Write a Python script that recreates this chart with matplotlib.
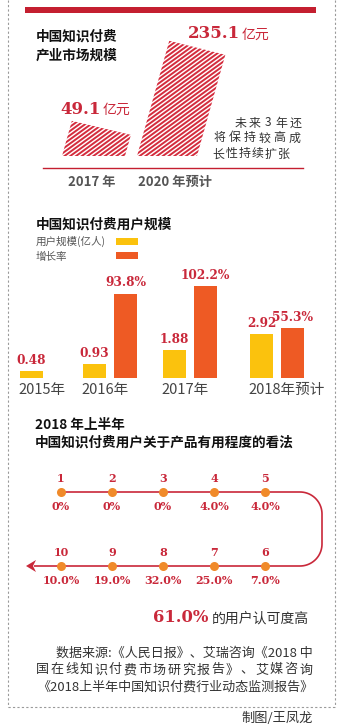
import numpy as np
import matplotlib
matplotlib.use("Agg")
import matplotlib.pyplot as plt
from matplotlib.patches import Polygon, Rectangle
from matplotlib.collections import LineCollection

plt.rcParams['font.family'] = ['Noto Sans CJK SC', 'DejaVu Sans']

# ---------------- data ----------------
market_years = ["2017 年", "2020 年预计"]
market_values = [49.1, 235.1]          # 亿元

user_years = ["2015年", "2016年", "2017年", "2018年预计"]
user_scale = [0.48, 0.93, 1.88, 2.92]  # 亿人
user_growth = [None, 93.8, 102.2, 55.3]  # %

ranks = [1, 2, 3, 4, 5, 6, 7, 8, 9, 10]
rank_share = [0, 0, 0, 4.0, 4.0, 7.0, 25.0, 32.0, 19.0, 10.0]  # %
approval = 61.0

# ---------------- styles ----------------
W, H = 344, 727
RED = "#c41f30"
TXT_RED = "#c9283a"
HATCH_RED = "#d42c3d"
YELLOW = "#fbc20d"
ORANGE = "#ee5a24"
DOT = "#f08a2a"
DARK = "#333333"
GREY = "#555555"
SERIF = "DejaVu Serif"

fig = plt.figure(figsize=(W / 100, H / 100), dpi=100)
fig.patch.set_facecolor("white")

bg = fig.add_axes([0, 0, 1, 1])
bg.set_xlim(0, W)
bg.set_ylim(H, 0)
bg.axis("off")


def px_axes(x0, y0, x1, y1):
    ax = fig.add_axes([x0 / W, 1 - y1 / H, (x1 - x0) / W, (y1 - y0) / H])
    ax.axis("off")
    ax.patch.set_alpha(0)
    return ax


def spaced(x_left, y, s, pitch, **kw):
    for i, ch in enumerate(s):
        bg.text(x_left + pitch * (i + 0.5), y, ch, ha="center", va="center", **kw)


# dashed border
bg.plot([8, 8], [0, 707], color="#9a9a9a", lw=0.8, ls=(0, (2, 2)))
bg.plot([335, 335], [0, 707], color="#9a9a9a", lw=0.8, ls=(0, (2, 2)))
bg.plot([8, 335], [707, 707], color="#9a9a9a", lw=0.8, ls=(0, (2, 2)))

# ---------------- section 1 ----------------
bg.add_patch(Rectangle((25, 7), 291, 6, color=RED, lw=0))
bg.text(36, 37, "中国知识付费", fontsize=9.8, fontweight="bold", color="#111", va="center")
bg.text(36, 56, "产业市场规模", fontsize=9.8, fontweight="bold", color="#111", va="center")

ax1 = px_axes(40, 20, 310, 156)
ax1.set_xlim(0, 270)
top1 = 316.0
ax1.set_ylim(0, top1)
ppu = 136 / top1              # pixels per unit
bar_left = [22, 97]
bar_w = [63, 60]
skew = 0.28                   # horizontal px per vertical px
lift = 14                     # extra px on the left edge
theta = np.deg2rad(36)
d = np.array([np.cos(theta), np.sin(theta)])
n = np.array([-np.sin(theta), np.cos(theta)])
for x0, w, v in zip(bar_left, bar_w, market_values):
    hl = v * ppu + lift
    hr = v * ppu
    verts = [(x0, 0), (x0 + w, 0), (x0 + w + skew * hr, v), (x0 + skew * hl, v + lift / ppu)]
    poly = Polygon(verts, closed=True, facecolor="white", edgecolor="none")
    ax1.add_patch(poly)
    segs = []
    for c in np.arange(-300, 300, 3.4):
        p0 = c * n - 400 * d
        p1 = c * n + 400 * d
        segs.append([(p0[0], p0[1] / ppu), (p1[0], p1[1] / ppu)])
    lc = LineCollection(segs, colors=HATCH_RED, linewidths=1.4)
    ax1.add_collection(lc)
    lc.set_clip_path(poly)

bg.text(60, 109, f"{market_values[0]:.1f}", fontsize=12, fontweight="bold", family=SERIF,
        color=TXT_RED, va="center")
bg.text(103, 110, "亿元", fontsize=10, color=TXT_RED, va="center")
bg.text(188, 34, f"{market_values[1]:.1f}", fontsize=12, fontweight="bold", family=SERIF,
        color=TXT_RED, va="center")
bg.text(242, 35, "亿元", fontsize=10, color=TXT_RED, va="center")

spaced(234, 123, "未来3年还", 13.6, fontsize=8.6, color=DARK)
spaced(212, 138, "将保持较高成", 15, fontsize=8.6, color=DARK)
spaced(212, 154, "长性持续扩张", 13, fontsize=8.6, color=DARK)

bg.plot([43, 303], [168, 168], color=RED, lw=1.0)
bg.text(68, 182, market_years[0], fontsize=9.5, fontweight="bold", color=GREY, va="center")
bg.text(138, 182, market_years[1], fontsize=9.5, fontweight="bold", color=GREY, va="center")

# ---------------- section 2 ----------------
bg.text(36, 225, "中国知识付费用户规模", fontsize=9.8, fontweight="bold", color="#111", va="center")
bg.text(36, 241, "用户规模(亿人)", fontsize=7.6, color=GREY, va="center")
bg.text(36, 257, "增长率", fontsize=7.6, color=GREY, va="center")
bg.add_patch(Rectangle((116, 238), 22, 7, color=YELLOW, lw=0))
bg.add_patch(Rectangle((116, 252), 22, 7, color=ORANGE, lw=0))

ax2 = px_axes(0, 260, 344, 378)
ax2.set_xlim(0, W)
ax2.set_ylim(0, 118 / 15)
ax2b = ax2.twinx()
ax2b.axis("off")
ax2b.set_ylim(0, 118 / 0.9)
grp_left = [20, 83, 163, 250]
bw = 23
off = 31
for x, v in zip(grp_left, user_scale):
    ax2.bar(x, v, width=bw, align="edge", color=YELLOW, lw=0)
    ax2.annotate(f"{v:.2f}", (x + bw / 2, v), xytext=(0, 3), textcoords="offset points",
                 ha="center", va="bottom", fontsize=8.7, fontweight="bold", family=SERIF,
                 color=TXT_RED)
for x, g in zip(grp_left, user_growth):
    if g is None:
        continue
    ax2b.bar(x + off, g, width=bw, align="edge", color=ORANGE, lw=0)
    ax2b.annotate(f"{g:.1f}%", (x + off + bw / 2, g), xytext=(0, 3), textcoords="offset points",
                  ha="center", va="bottom", fontsize=8.7, fontweight="bold", family=SERIF,
                  color=TXT_RED)
for x, lab in zip(grp_left, user_years):
    bg.text(x - 2, 390, lab, fontsize=10.5, color="#444", fontweight="light", va="center")

# ---------------- section 3 ----------------
bg.text(35, 425, "2018 年上半年", fontsize=9.8, fontweight="bold", color="#111", va="center")
bg.text(35, 443, "中国知识付费用户关于产品有用程度的看法", fontsize=9.8, fontweight="bold",
        color="#111", va="center")

# serpentine path
r = 22
xr = 300
yt, yb = 492, 566
a1 = np.linspace(np.pi / 2, 0, 20)
a2 = np.linspace(0, -np.pi / 2, 20)
px = [61, xr] + list(xr + r * np.cos(a1)) + list(xr + r * np.cos(a2)) + [xr, 34]
py = [yt, yt] + list(yt + r - r * np.sin(a1)) + list(yb - r - r * np.sin(a2)) + [yb, yb]
bg.plot(px, py, color=TXT_RED, lw=1.2, solid_capstyle="butt")
bg.add_patch(Polygon([(26, 566), (36, 560), (33, 566), (36, 572)], closed=True,
                     color=TXT_RED, lw=0))

ax3 = px_axes(0, 400, 344, 650)
ax3.set_xlim(-61 / 51, (W - 61) / 51)
ax3.set_ylim((650 - 492) / 74, (400 - 492) / 74)
for k, s in zip(ranks, rank_share):
    row = 0 if k <= 5 else 1
    slot = k - 1 if k <= 5 else 10 - k
    ax3.plot(slot, row, "o", color=DOT, ms=6.5, mec="none", zorder=3)
    ax3.annotate(str(k), (slot, row), xytext=(0, 14), textcoords="offset pixels",
                 ha="center", va="center", fontsize=8, fontweight="bold", family=SERIF,
                 color=TXT_RED)
    lab = "0%" if s == 0 else f"{s:.1f}%"
    ax3.annotate(lab, (slot, row), xytext=(0, -15), textcoords="offset pixels",
                 ha="center", va="center", fontsize=8, fontweight="bold", family=SERIF,
                 color=TXT_RED)

bg.text(153, 618, f"{approval:.1f}%", fontsize=11.8, fontweight="bold", family=SERIF,
        color=TXT_RED, va="center")
bg.text(212, 619, "的用户认可度高", fontsize=10, color=DARK, va="center")

bg.text(313, 653, "数据来源:《人民日报》、艾瑞咨询《2018 中", fontsize=9.4, color=DARK,
        ha="right", va="center")
spaced(35, 670, "国在线知识付费市场研究报告》、艾媒咨询", 278 / 19, fontsize=9.4, color=DARK)
bg.text(313, 687, "《2018上半年中国知识付费行业动态监测报告》", fontsize=9.4, color=DARK,
        ha="right", va="center")
bg.text(313, 718, "制图/王凤龙", fontsize=9.5, color=DARK, ha="right", va="center")

fig.savefig("out.png", dpi=100, facecolor="white")
